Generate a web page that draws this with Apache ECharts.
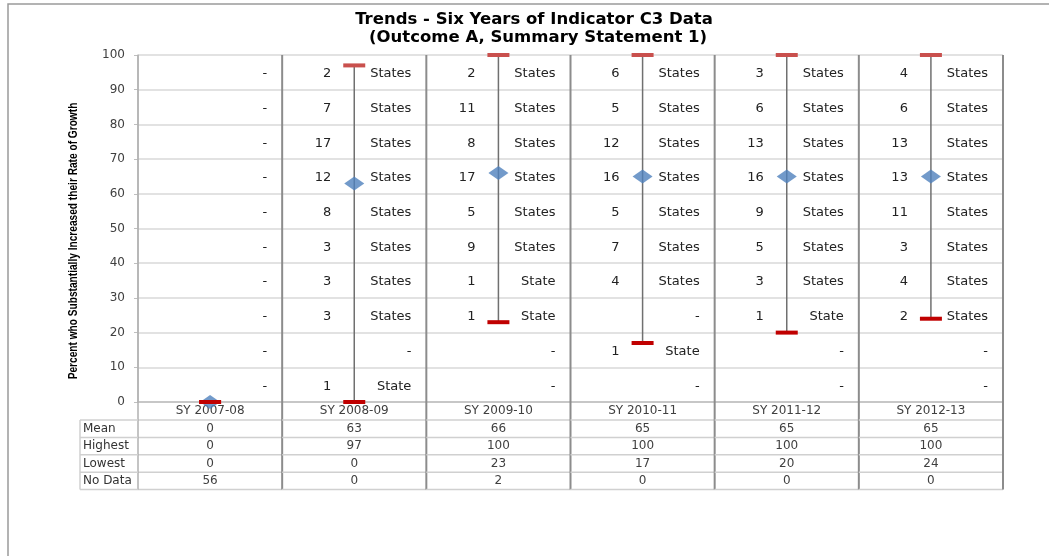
<!DOCTYPE html>
<html>
<head>
<meta charset="utf-8">
<script src="https://cdn.jsdelivr.net/npm/echarts@6/dist/echarts.min.js"></script>
<style>
  html, body { margin: 0; padding: 0; background: #fff; }
  #chart_1 { width: 1049px; height: 556px; }
</style>
</head>
<body>
<div id="chart_1"></div>
<script>
var years = ['SY 2007-08', 'SY 2008-09', 'SY 2009-10', 'SY 2010-11', 'SY 2011-12', 'SY 2012-13'];
var meanVals = [0, 63, 66, 65, 65, 65];
var highVals = [0, 97, 100, 100, 100, 100];
var lowVals = [0, 0, 23, 17, 20, 24];
var noDataVals = [56, 0, 2, 0, 0, 0];
var tableRows = ['Mean', 'Highest', 'Lowest', 'No Data'];

// states per 10-point band, from the 90-100 band down to 0-10
var bandMids = [95, 85, 75, 65, 55, 45, 35, 25, 15, 5];
var counts0708 = [0, 0, 0, 0, 0, 0, 0, 0, 0, 0];
var counts0809 = [2, 7, 17, 12, 8, 3, 3, 3, 0, 1];
var counts0910 = [2, 11, 8, 17, 5, 9, 1, 1, 0, 0];
var counts1011 = [6, 5, 12, 16, 5, 7, 4, 0, 1, 0];
var counts1112 = [3, 6, 13, 16, 9, 5, 3, 1, 0, 0];
var counts1213 = [4, 6, 13, 13, 11, 3, 4, 2, 0, 0];
var bandCounts = [counts0708, counts0809, counts0910, counts1011, counts1112, counts1213];

(function () {
  var chartDom = document.getElementById('chart_1');
  var myChart = echarts.init(chartDom);
  var option;

  var tableFont = '"DejaVu Sans"';

  var bandData = [];
  bandCounts.forEach(function (list, i) {
    list.forEach(function (n, k) {
      bandData.push([i, bandMids[k], n]);
    });
  });

  var hiloData = years.map(function (y, i) { return [i, highVals[i], lowVals[i]]; });
  var tableData = years.map(function (y, i) {
    return [i, meanVals[i], highVals[i], lowVals[i], noDataVals[i]];
  });

  option = {
    animation: false,
    backgroundColor: '#fff',
    graphic: [
      {
        type: 'rect', silent: true,
        shape: { x: 8, y: 4, width: 1100, height: 600 },
        style: { fill: 'none', stroke: '#9a9a9a', lineWidth: 1.5 }
      },
      {
        type: 'text',
        style: {
          text: 'Trends - Six Years of Indicator C3 Data', x: 534, y: 20,
          align: 'center', verticalAlign: 'middle',
          font: 'bold 16.5px "DejaVu Sans"', fill: '#000'
        }
      },
      {
        type: 'text',
        style: {
          text: '(Outcome A, Summary Statement 1)', x: 538, y: 38,
          align: 'center', verticalAlign: 'middle',
          font: 'bold 16.5px "DejaVu Sans"', fill: '#000'
        }
      },
      {
        // y axis title, squeezed like a narrow font
        type: 'text',
        x: 73, y: 241,
        rotation: Math.PI / 2,
        scaleX: 0.78,
        style: {
          text: 'Percent who Substantially Increased their Rate of Growth',
          x: 0, y: 0,
          align: 'center', verticalAlign: 'middle',
          font: 'bold 13px "Liberation Sans"', fill: '#000'
        }
      }
    ],
    grid: {
      left: 138,
      right: 46,
      top: 55,
      bottom: 154
    },
    xAxis: {
      type: 'category',
      data: years,
      axisLine: { lineStyle: { color: '#bfbfbf', width: 1.5 } },
      axisTick: { show: false },
      axisLabel: {
        margin: 3,
        fontFamily: tableFont,
        fontSize: 12,
        color: '#404040'
      },
      splitLine: { show: false }
    },
    yAxis: {
      type: 'value',
      min: 0,
      max: 100,
      interval: 10,
      axisLine: { show: true, lineStyle: { color: '#bfbfbf', width: 1.5 } },
      axisTick: { show: true, length: 4, lineStyle: { color: '#bfbfbf' } },
      axisLabel: {
        fontFamily: tableFont,
        fontSize: 12,
        color: '#404040',
        margin: 13
      },
      splitLine: { lineStyle: { color: '#d9d9d9', width: 1.5 } }
    },
    series: [
      {
        // state counts for each band
        type: 'custom',
        z: 1,
        data: bandData,
        renderItem: function (params, api) {
          var p = api.coord([api.value(0), api.value(1)]);
          var w = api.size([1, 0])[0];
          var n = api.value(2);
          var word = n === 0 ? '-' : (n === 1 ? 'State' : 'States');
          var children = [{
            type: 'text',
            style: {
              text: word, x: p[0] + w / 2 - 15, y: p[1] + 1.5,
              align: 'right', verticalAlign: 'middle',
              font: '13px "DejaVu Sans"', fill: '#222'
            }
          }];
          if (n > 0) {
            children.push({
              type: 'text',
              style: {
                text: String(n), x: p[0] - 23, y: p[1] + 1.5,
                align: 'right', verticalAlign: 'middle',
                font: '13px "DejaVu Sans"', fill: '#222'
              }
            });
          }
          return { type: 'group', children: children };
        }
      },
      {
        // table under the axis
        type: 'custom',
        z: 1,
        data: tableData,
        renderItem: function (params, api) {
          var i = api.value(0);
          var p0 = api.coord([i, 0]);
          var top = api.coord([i, 100])[1];
          var w = api.size([1, 0])[0];
          var left = p0[0] - w / 2, right = p0[0] + w / 2;
          var rowH = 17.4;
          var y0 = p0[1] + 18;
          var bottom = y0 + rowH * 4;
          var children = [];
          var k;
          for (k = 0; k <= 4; k++) {
            children.push({
              type: 'line',
              shape: { x1: left, y1: y0 + k * rowH, x2: right, y2: y0 + k * rowH },
              style: { stroke: '#d0d0d0', lineWidth: 1.5 }
            });
          }
          for (k = 0; k < 4; k++) {
            children.push({
              type: 'text',
              style: {
                text: String(api.value(k + 1)), x: p0[0], y: y0 + (k + 0.5) * rowH,
                align: 'center', verticalAlign: 'middle',
                font: '12px ' + tableFont, fill: '#404040'
              }
            });
          }
          children.push({
            type: 'line',
            shape: { x1: right, y1: top, x2: right, y2: bottom },
            style: { stroke: '#8c8c8c', lineWidth: 2 }
          });
          if (i === 0) {
            var labLeft = left - 58;
            children.push({
              type: 'line',
              shape: { x1: left, y1: top, x2: left, y2: bottom },
              style: { stroke: '#b0b0b0', lineWidth: 1.5 }
            });
            children.push({
              type: 'line',
              shape: { x1: labLeft, y1: y0, x2: labLeft, y2: bottom },
              style: { stroke: '#d0d0d0', lineWidth: 1.5 }
            });
            for (k = 0; k <= 4; k++) {
              children.push({
                type: 'line',
                shape: { x1: labLeft, y1: y0 + k * rowH, x2: left, y2: y0 + k * rowH },
                style: { stroke: '#d0d0d0', lineWidth: 1.5 }
              });
            }
            for (k = 0; k < 4; k++) {
              children.push({
                type: 'text',
                style: {
                  text: tableRows[k], x: labLeft + 3, y: y0 + (k + 0.5) * rowH,
                  align: 'left', verticalAlign: 'middle',
                  font: '12px ' + tableFont, fill: '#333'
                }
              });
            }
          }
          return { type: 'group', children: children };
        }
      },
      {
        // high-low line
        type: 'custom',
        z: 2,
        data: hiloData,
        renderItem: function (params, api) {
          var hi = api.coord([api.value(0), api.value(1)]);
          var lo = api.coord([api.value(0), api.value(2)]);
          return {
            type: 'line',
            shape: { x1: hi[0], y1: hi[1], x2: lo[0], y2: lo[1] },
            style: { stroke: '#707070', lineWidth: 1.5 }
          };
        }
      },
      {
        name: 'Mean',
        type: 'scatter',
        z: 3,
        symbol: 'diamond',
        symbolSize: [20, 14],
        itemStyle: { color: '#4f81bd' },
        data: meanVals
      },
      {
        // highest / lowest markers
        type: 'custom',
        z: 4,
        data: hiloData,
        renderItem: function (params, api) {
          var hi = api.coord([api.value(0), api.value(1)]);
          var lo = api.coord([api.value(0), api.value(2)]);
          return {
            type: 'group',
            children: [
              { type: 'rect', shape: { x: hi[0] - 11, y: hi[1] - 2, width: 22, height: 4 }, style: { fill: '#c9504d' } },
              { type: 'rect', shape: { x: lo[0] - 11, y: lo[1] - 2, width: 22, height: 4 }, style: { fill: '#c00000' } }
            ]
          };
        }
      }
    ]
  };

  option && myChart.setOption(option);
})();
</script>
</body>
</html>
